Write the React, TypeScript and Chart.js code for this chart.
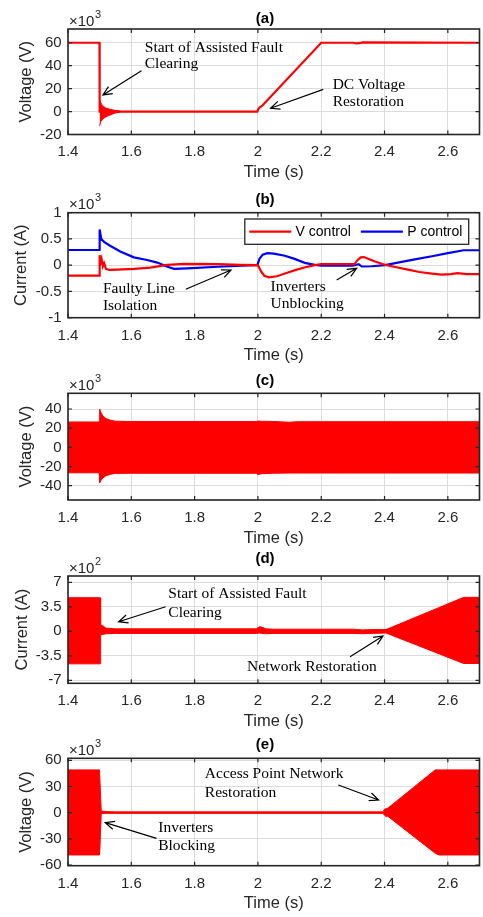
import React, { useEffect, useRef } from 'react';
import { Chart, registerables } from 'chart.js';

Chart.register(...registerables);

// ---------- shared axis values ----------
const timeTicks = [1.4, 1.6, 1.8, 2, 2.2, 2.4, 2.6];

// ---------- (a) DC voltage ----------
const aLineTime = [1.4, 1.4995, 1.5, 1.56, 1.998, 2.003, 2.008, 2.015, 2.2, 2.302, 2.31, 2.32, 2.33, 2.7];
const aLineVolt = [60, 60, 0, 0, 0, 3, 4, 5.5, 60, 60, 59.4, 59.6, 60.3, 60];
const aOscTime = [1.5, 1.503, 1.507, 1.513, 1.52, 1.533, 1.549, 1.565];
const aOscUpper = [10, 8, 6, 4.3, 3, 2, 1, 0.4];
const aOscLower = [-12.5, -9, -7.5, -5.9, -4.5, -3, -1.3, -0.4];
const aTicks = [-20, 0, 20, 40, 60];

// ---------- (b) currents ----------
const bVTime = [1.4, 1.4995, 1.5, 1.503, 1.506, 1.51, 1.514, 1.52, 1.53, 1.555, 1.608, 1.66, 1.714, 1.767, 1.873, 1.947, 2.0, 2.01, 2.02, 2.035, 2.06, 2.09, 2.12, 2.15, 2.18, 2.2, 2.25, 2.305, 2.315, 2.325, 2.335, 2.35, 2.37, 2.4, 2.43, 2.47, 2.51, 2.55, 2.58, 2.61, 2.63, 2.66, 2.7];
const bVCurrent = [-0.2, -0.2, 0.19, 0.05, 0.12, -0.02, 0.04, -0.07, -0.09, -0.085, -0.07, -0.045, 0.006, 0.026, 0.02, 0.006, 0, -0.12, -0.2, -0.23, -0.21, -0.15, -0.09, -0.04, 0, 0.02, 0.02, 0.02, 0.1, 0.15, 0.155, 0.12, 0.07, 0.01, -0.03, -0.08, -0.13, -0.16, -0.18, -0.17, -0.15, -0.17, -0.17];
const bPTime = [1.4, 1.4995, 1.5, 1.505, 1.515, 1.533, 1.565, 1.608, 1.65, 1.682, 1.714, 1.735, 1.777, 1.873, 1.95, 1.998, 2.005, 2.015, 2.03, 2.05, 2.085, 2.116, 2.148, 2.18, 2.2, 2.3, 2.318, 2.328, 2.36, 2.402, 2.45, 2.5, 2.55, 2.6, 2.65, 2.7];
const bPCurrent = [0.29, 0.29, 0.68, 0.5, 0.44, 0.37, 0.26, 0.15, 0.1, 0.05, -0.03, -0.07, -0.06, -0.03, -0.01, 0, 0.12, 0.2, 0.23, 0.22, 0.18, 0.12, 0.045, 0.006, -0.01, -0.01, 0.02, -0.025, -0.02, 0, 0.06, 0.115, 0.17, 0.23, 0.285, 0.285];
const bTicks = [-1, -0.5, 0, 0.5, 1];

// ---------- (c) AC voltage envelope ----------
const cTime = [1.4, 1.499, 1.5, 1.503, 1.51, 1.52, 1.535, 1.55, 1.6, 1.995, 2.0, 2.01, 2.05, 2.1, 2.12, 2.2, 2.7];
const cUpper = [26.5, 26.5, 40, 37, 33, 30, 28.3, 27.3, 27, 27, 27.5, 27.2, 27, 26.2, 26.7, 26.8, 26.8];
const cLower = [-26.5, -26.5, -37, -35, -32, -29.5, -28, -27.2, -27, -27, -28.5, -27.5, -27, -26.8, -26.8, -26.8, -26.8];
const cTicks = [-40, -20, 0, 20, 40];

// ---------- (d) AC current envelope ----------
const dTime = [1.4, 1.499, 1.5015, 1.503, 1.51, 1.52, 1.55, 1.995, 2.005, 2.012, 2.025, 2.05, 2.3, 2.33, 2.36, 2.405, 2.65, 2.7];
const dUpper = [4.8, 4.8, 4.8, 0.9, 0.8, 0.45, 0.35, 0.35, 0.65, 0.6, 0.35, 0.3, 0.3, 0.2, 0.25, 0.25, 4.85, 4.85];
const dLower = [-4.65, -4.65, -4.65, -0.5, -0.45, -0.35, -0.3, -0.3, -0.25, -0.3, -0.35, -0.3, -0.3, -0.35, -0.3, -0.25, -4.6, -4.6];
const dTicks = [-7, -3.5, 0, 3.5, 7];

// ---------- (e) access point voltage envelope ----------
const eTime = [1.4, 1.4995, 1.501, 1.505, 1.52, 1.55, 2.395, 2.4, 2.405, 2.41, 2.56, 2.572, 2.7];
const eUpper = [49, 49, 49, 2, 1.2, 0.9, 0.9, 4, 4.5, 5, 49, 49, 49];
const eLower = [-48.5, -48.5, -48.5, -1, -0.8, -0.8, -0.8, -3, -4.5, -4, -46.5, -48.5, -48.5];
const eTicks = [-60, -30, 0, 30, 60];

// ---------- styling constants ----------
const RED = '#ff0000';
const BLUE = '#0000ff';
const AXIS = '#262626';
const GRID = '#dcdcdc';
const SANS = '"Liberation Sans", Arial, Helvetica, sans-serif';
const SERIF = '"Liberation Serif", "Times New Roman", serif';
const PLOT_LEFT = 68;
const PLOT_RIGHT = 479.5;
const TITLE_X = 265;

const zip = (xs: number[], ys: number[]) => xs.map((x, i) => ({ x, y: ys[i] }));

const lineDs = (label: string, xs: number[], ys: number[], color: string) => ({
  label, data: zip(xs, ys), borderColor: color, backgroundColor: color, borderWidth: 2.2, fill: false,
});
const bandDs = (label: string, xs: number[], up: number[], lo: number[]) => [
  { label: label + ' upper', data: zip(xs, up), borderColor: RED, backgroundColor: RED, borderWidth: 1, fill: '+1' },
  { label: label + ' lower', data: zip(xs, lo), borderColor: RED, backgroundColor: RED, borderWidth: 1, fill: false },
];

type Ann = { x: number; lines: { text: string; y: number }[]; from: [number, number]; to: [number, number] };
type Panel = {
  id: string; title: string; yLabel: string; exp: string;
  plotTop: number; plotBottom: number; yMin: number; yMax: number; yTicks: number[];
  titleY: number; yTitleCenter: number; datasets: any[]; anns: Ann[]; legend?: boolean;
};

const PANELS: Panel[] = [
  {
    id: 'a', title: '(a)', yLabel: 'Voltage (V)', exp: '3', plotTop: 29, plotBottom: 134.5,
    yMin: -20, yMax: 72, yTicks: aTicks, titleY: 19.2, yTitleCenter: 26.7,
    datasets: [...bandDs('Oscillation', aOscTime, aOscUpper, aOscLower), lineDs('DC voltage', aLineTime, aLineVolt, RED)],
    anns: [
      { x: 1.6425, lines: [{ text: 'Start of Assisted Fault', y: 52.2 }, { text: 'Clearing', y: 37.7 }], from: [1.632, 35.6], to: [1.5103, 14.5] },
      { x: 2.236, lines: [{ text: 'DC Voltage', y: 19.4 }, { text: 'Restoration', y: 4.9 }], from: [2.2064, 19.4], to: [2.04, 2.85] },
    ],
  },
  {
    id: 'b', title: '(b)', yLabel: 'Current (A)', exp: '3', plotTop: 212.7, plotBottom: 317.7,
    yMin: -1, yMax: 1, yTicks: bTicks, titleY: 200, yTitleCenter: 21.7, legend: true,
    datasets: [lineDs('V control', bVTime, bVCurrent, RED), lineDs('P control', bPTime, bPCurrent, BLUE)],
    anns: [
      { x: 1.5103, lines: [{ text: 'Faulty Line', y: -0.524 }, { text: 'Isolation', y: -0.853 }], from: [1.772, -0.459], to: [1.915, -0.091] },
      { x: 2.04, lines: [{ text: 'Inverters', y: -0.486 }, { text: 'Unblocking', y: -0.82 }], from: [2.2487, -0.282], to: [2.312, -0.06] },
    ],
  },
  {
    id: 'c', title: '(c)', yLabel: 'Voltage (V)', exp: '3', plotTop: 393.3, plotBottom: 500,
    yMin: -54.9, yMax: 56.4, yTicks: cTicks, titleY: 381, yTitleCenter: 26.3,
    datasets: bandDs('AC voltage', cTime, cUpper, cLower),
    anns: [],
  },
  {
    id: 'd', title: '(d)', yLabel: 'Current (A)', exp: '2', plotTop: 576, plotBottom: 683.3,
    yMin: -7.43, yMax: 7.9, yTicks: dTicks, titleY: 559, yTitleCenter: 22,
    datasets: bandDs('AC current', dTime, dUpper, dLower),
    anns: [
      { x: 1.7169, lines: [{ text: 'Start of Assisted Fault', y: 4.71 }, { text: 'Clearing', y: 2.09 }], from: [1.7083, 3.51], to: [1.56, 1.37] },
      { x: 1.9658, lines: [{ text: 'Network Restoration', y: -5.63 }], from: [2.291, -3.63], to: [2.395, -0.67] },
    ],
  },
  {
    id: 'e', title: '(e)', yLabel: 'Voltage (V)', exp: '3', plotTop: 758.3, plotBottom: 865.7,
    yMin: -60.8, yMax: 62.3, yTicks: eTicks, titleY: 745, yTitleCenter: 26,
    datasets: bandDs('Access point voltage', eTime, eUpper, eLower),
    anns: [
      { x: 1.8323, lines: [{ text: 'Access Point Network', y: 39.4 }, { text: 'Restoration', y: 18.3 }], from: [2.254, 31.7], to: [2.3813, 14.5] },
      { x: 1.685, lines: [{ text: 'Inverters', y: -22.5 }, { text: 'Blocking', y: -42.8 }], from: [1.6797, -29.4], to: [1.5176, -11.5] },
    ],
  },
];

const geom = (p: Panel) => {
  const top = Math.floor(p.plotTop - 29);
  const h = Math.ceil(p.plotBottom + 49 - top);
  const xH = h - (p.plotBottom - top);
  return { top, h, padTop: p.plotTop - top, xH };
};

const AXIS_TITLE_SIZE = 16.5;
const TICK_SIZE = 15;

function drawArrow(ctx: CanvasRenderingContext2D, x1: number, y1: number, x2: number, y2: number) {
  const ang = Math.atan2(y2 - y1, x2 - x1);
  const L = 10, spread = 0.42;
  ctx.beginPath();
  ctx.moveTo(x1, y1);
  ctx.lineTo(x2, y2);
  ctx.moveTo(x2 - L * Math.cos(ang - spread), y2 - L * Math.sin(ang - spread));
  ctx.lineTo(x2, y2);
  ctx.lineTo(x2 - L * Math.cos(ang + spread), y2 - L * Math.sin(ang + spread));
  ctx.stroke();
}

const decorPlugin = (p: Panel, canvasTop: number) => ({
  id: 'decor_' + p.id,
  afterDraw(chart: any) {
    const { ctx, chartArea: ca, scales } = chart;
    const xs = scales.x, ys = scales.y;
    ctx.save();
    // box
    ctx.strokeStyle = AXIS;
    ctx.lineWidth = 1.6;
    ctx.strokeRect(ca.left, ca.top, ca.right - ca.left, ca.bottom - ca.top);
    // inward ticks on all sides
    ctx.lineWidth = 1.2;
    ctx.beginPath();
    for (const v of timeTicks) {
      const px = xs.getPixelForValue(v);
      ctx.moveTo(px, ca.bottom); ctx.lineTo(px, ca.bottom - 4);
      ctx.moveTo(px, ca.top); ctx.lineTo(px, ca.top + 4);
    }
    for (const v of p.yTicks) {
      const py = ys.getPixelForValue(v);
      ctx.moveTo(ca.left, py); ctx.lineTo(ca.left + 4, py);
      ctx.moveTo(ca.right, py); ctx.lineTo(ca.right - 4, py);
    }
    ctx.stroke();
    // exponent label
    ctx.fillStyle = AXIS;
    ctx.textAlign = 'left';
    ctx.textBaseline = 'alphabetic';
    ctx.font = `15px ${SANS}`;
    const base = '×10';
    ctx.fillText(base, ca.left + 1, ca.top - 3.5);
    const bw = ctx.measureText(base).width;
    ctx.font = `11px ${SANS}`;
    ctx.fillText(p.exp, ca.left + 1.5 + bw, ca.top - 11.5);
    // title
    ctx.fillStyle = '#000';
    ctx.font = `bold 15px ${SANS}`;
    ctx.textAlign = 'center';
    ctx.textBaseline = 'middle';
    ctx.fillText(p.title, TITLE_X, p.titleY - canvasTop);
    // annotations
    ctx.font = `15.5px ${SERIF}`;
    ctx.textAlign = 'left';
    ctx.textBaseline = 'alphabetic';
    ctx.strokeStyle = '#000';
    ctx.lineWidth = 1.2;
    for (const a of p.anns) {
      const ax = xs.getPixelForValue(a.x);
      for (const l of a.lines) ctx.fillText(l.text, ax, ys.getPixelForValue(l.y));
      drawArrow(ctx, xs.getPixelForValue(a.from[0]), ys.getPixelForValue(a.from[1]),
        xs.getPixelForValue(a.to[0]), ys.getPixelForValue(a.to[1]));
    }
    // legend
    if (p.legend) {
      const items = chart.data.datasets.map((d: any) => ({ label: d.label, color: d.borderColor }));
      ctx.font = `14px ${SANS}`;
      const lineLen = 42, gapLT = 4.3, gapItem = 10, padL = 4.5, padR = 6.3;
      const widths = items.map((it: any) => ctx.measureText(it.label).width);
      let total = padL + padR;
      items.forEach((_: any, i: number) => { total += lineLen + gapLT + widths[i] + (i ? gapItem : 0); });
      const right = ca.right - 10.8;
      const left = right - total;
      const top = ca.top + 6.3;
      const h = 25.3;
      ctx.fillStyle = '#fff';
      ctx.fillRect(left, top, total, h);
      ctx.strokeStyle = AXIS;
      ctx.lineWidth = 1.3;
      ctx.strokeRect(left, top, total, h);
      const cy = top + h / 2;
      let x = left + padL;
      ctx.textBaseline = 'middle';
      items.forEach((it: any, i: number) => {
        if (i) x += gapItem;
        ctx.strokeStyle = it.color;
        ctx.lineWidth = 2.2;
        ctx.beginPath(); ctx.moveTo(x, cy); ctx.lineTo(x + lineLen, cy); ctx.stroke();
        x += lineLen + gapLT;
        ctx.fillStyle = '#000';
        ctx.fillText(it.label, x, cy + 0.5);
        x += widths[i];
      });
    }
    ctx.restore();
  },
});

function makeChart(canvas: HTMLCanvasElement, p: Panel) {
  const g = geom(p);
  return new Chart(canvas, {
    type: 'line',
    data: { datasets: p.datasets },
    options: {
      animation: false,
      responsive: false,
      maintainAspectRatio: false,
      events: [],
      layout: { padding: { top: g.padTop, left: 0, right: 483 - PLOT_RIGHT, bottom: 0 } },
      elements: { point: { radius: 0 }, line: { tension: 0 } },
      plugins: { legend: { display: false }, tooltip: { enabled: false }, title: { display: false } },
      scales: {
        x: {
          type: 'linear', min: 1.4, max: 2.7,
          afterBuildTicks: (s: any) => { s.ticks = timeTicks.map((v) => ({ value: v })); },
          afterFit: (s: any) => { s.height = g.xH; },
          grid: { color: GRID, lineWidth: 1, drawTicks: false },
          border: { display: false },
          ticks: { autoSkip: false, maxRotation: 0, padding: 8.8, color: AXIS, font: { family: SANS, size: TICK_SIZE }, callback: (v: any) => String(v) },
          title: { display: true, text: 'Time (s)', color: AXIS, font: { family: SANS, size: AXIS_TITLE_SIZE }, padding: { top: 0, bottom: Math.max(0, g.xH - 38 - AXIS_TITLE_SIZE * 0.6) } },
        },
        y: {
          type: 'linear', min: p.yMin, max: p.yMax,
          afterBuildTicks: (s: any) => { s.ticks = p.yTicks.map((v) => ({ value: v })); },
          afterFit: (s: any) => { s.width = PLOT_LEFT; },
          grid: { color: GRID, lineWidth: 1, drawTicks: false },
          border: { display: false },
          ticks: { autoSkip: false, padding: 6.3, color: AXIS, font: { family: SANS, size: TICK_SIZE }, callback: (v: any) => String(v) },
          title: { display: true, text: p.yLabel, color: AXIS, font: { family: SANS, size: AXIS_TITLE_SIZE }, padding: { top: p.yTitleCenter - AXIS_TITLE_SIZE * 0.6, bottom: 0 } },
        },
      },
    } as any,
    plugins: [decorPlugin(p, g.top)],
  });
}

export default function App() {
  const refs = useRef<(HTMLCanvasElement | null)[]>([]);
  useEffect(() => {
    const charts = PANELS.map((p, i) => makeChart(refs.current[i] as HTMLCanvasElement, p));
    return () => charts.forEach((c) => c.destroy());
  }, []);
  return (
    <div style={{ position: 'absolute', left: 0, top: 0, width: 483, height: 917, background: '#fff', overflow: 'hidden' }}>
      {PANELS.map((p, i) => {
        const g = geom(p);
        return (
          <canvas
            key={p.id}
            ref={(el) => { refs.current[i] = el; }}
            width={483}
            height={g.h}
            style={{ position: 'absolute', left: 0, top: g.top, width: 483, height: g.h }}
          />
        );
      })}
    </div>
  );
}
